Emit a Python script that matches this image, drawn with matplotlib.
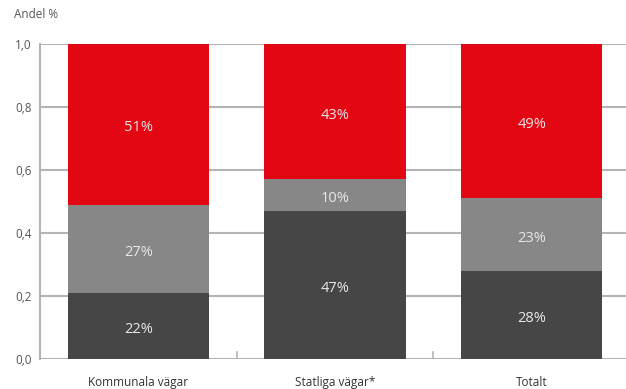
import matplotlib
matplotlib.use("Agg")
import matplotlib.pyplot as plt
import numpy as np

categories = ["Kommunala vägar", "Statliga vägar*", "Totalt"]
bottom_vals = [0.21, 0.47, 0.28]
middle_vals = [0.28, 0.10, 0.23]
top_vals = [0.51, 0.43, 0.49]
bottom_labels = ["22%", "47%", "28%"]
middle_labels = ["27%", "10%", "23%"]
top_labels = ["51%", "43%", "49%"]
yticks = [0.0, 0.2, 0.4, 0.6, 0.8, 1.0]
ytick_labels = ["0,0", "0,2", "0,4", "0,6", "0,8", "1,0"]

plt.rcParams['font.family'] = ['Open Sans', 'DejaVu Sans']

fig = plt.figure(figsize=(6.26, 3.89), dpi=100)
W, H = 626, 389
ax_left, ax_right, ax_top, ax_bottom = 40, 626, 44, 359
ax = fig.add_axes([ax_left / W, 1 - ax_bottom / H, (ax_right - ax_left) / W, (ax_bottom - ax_top) / H])

x = np.arange(len(categories))
width = 0.72
col_dark = "#464646"
col_gray = "#878787"
col_red = "#e30613"
grid_col = "#b4b4b4"

for yv in yticks:
    ax.axhline(yv, color=grid_col, lw=1.5, zorder=0)

b = np.array(bottom_vals)
m = np.array(middle_vals)
t = np.array(top_vals)
ax.bar(x, b, width, color=col_dark, zorder=2)
ax.bar(x, m, width, bottom=b, color=col_gray, zorder=2)
ax.bar(x, t, width, bottom=b + m, color=col_red, zorder=2)

txt_col = "#e8e8e8"
kw = dict(ha="center", va="center", color=txt_col, fontsize=10.5, zorder=3,
          textcoords="offset points", xytext=(0, -2.5))
for i in range(len(categories)):
    ax.annotate(bottom_labels[i], (x[i], b[i] / 2), **kw)
    ax.annotate(middle_labels[i], (x[i], b[i] + m[i] / 2), **kw)
    ax.annotate(top_labels[i], (x[i], b[i] + m[i] + t[i] / 2), **kw)

ax.set_xlim(-0.5, 2.5 - 4 / 197)
ax.set_ylim(0, 1.0)
ax.set_yticks(yticks)
ax.set_yticklabels(ytick_labels, color="#555555", fontsize=8.5)
ax.tick_params(axis="y", length=0, pad=6)
ax.set_xticks(x)
ax.set_xticklabels(categories, color="#333333", fontsize=8.5)
ax.tick_params(axis="x", length=0, pad=12)

for xb in [0.5, 1.5]:
    ax.plot([xb, xb], [0, 0.022], color=grid_col, lw=1.2, zorder=1)

for s in ["top", "right", "bottom"]:
    ax.spines[s].set_visible(False)
ax.spines["left"].set_color(grid_col)
ax.spines["left"].set_linewidth(1.5)

fig.text(14 / W, 1 - 14 / H, "Andel %", color="#555555", fontsize=8.5, ha="left", va="center")

fig.savefig("out.png", dpi=100)
